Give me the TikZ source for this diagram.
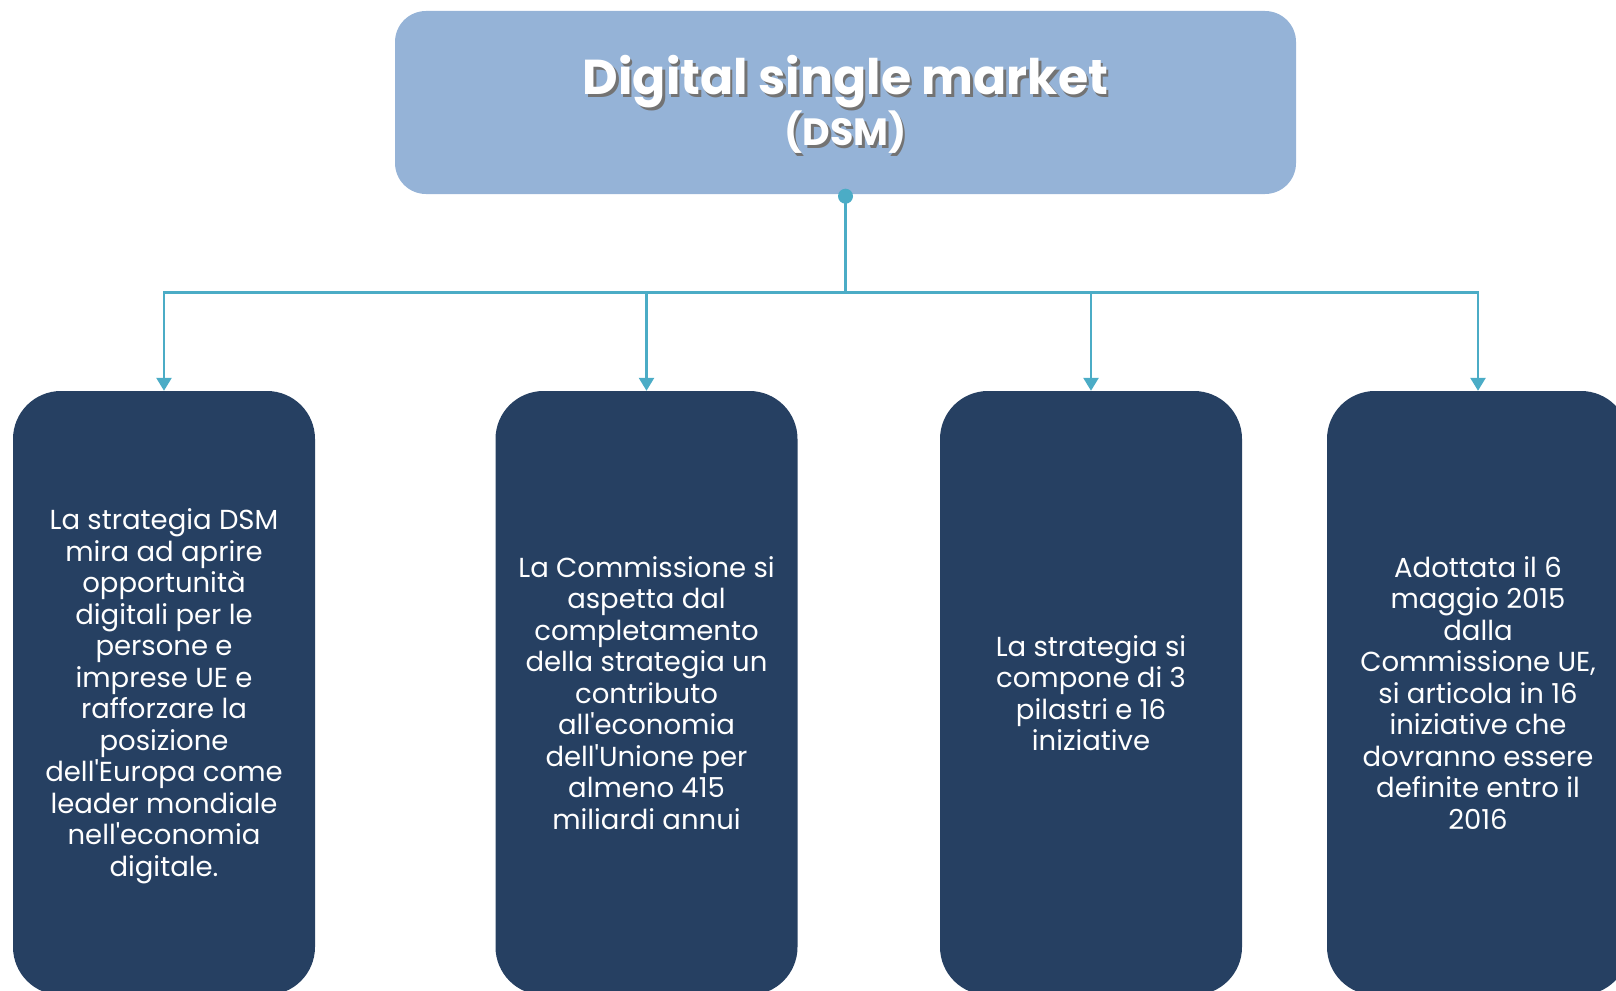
\documentclass[tikz,border=0pt]{standalone}
\usepackage{fontspec}
\setmainfont{Poppins}
\usetikzlibrary{arrows.meta}
\definecolor{titleblue}{HTML}{95B3D7}
\definecolor{boxnavy}{HTML}{264062}
\definecolor{linkteal}{HTML}{4BACC6}
\newcommand{\ap}{\textquotesingle}
\begin{document}
\begin{tikzpicture}[x=1pt, y=-1pt,
 topbox/.style={fill=titleblue, rounded corners=31pt, minimum width=901pt, minimum height=183pt, inner sep=0pt},
 card/.style={fill=boxnavy, rounded corners=48pt, minimum width=302pt, minimum height=604pt, inner sep=0pt},
 cardtext/.style={text=white, align=center, font=\fontsize{27.5}{31.5}\selectfont},
 link/.style={draw=linkteal, line width=2.6pt, -{Triangle[width=15pt,length=13pt]}},
 dot/.style={circle, fill=linkteal, minimum size=15pt, inner sep=0pt}]
\useasboundingbox (0,0) rectangle (1616,990);
\clip (0,0) rectangle (1616,990);

\node[topbox] at (845.5,102.5)(title) {};
\node[text=black!55, align=center, font=\bfseries] at ([shift={(2.5,5)}]title.center)(titleshadow) {{\fontsize{49}{53}\selectfont Digital single market}\\[2pt]{\fontsize{38}{40}\selectfont (DSM)}};
\node[text=white, align=center, font=\bfseries] at ([shift={(0,2)}]title.center)(titletext) {{\fontsize{49}{53}\selectfont Digital single market}\\[2pt]{\fontsize{38}{40}\selectfont (DSM)}};

\node[card] at (164,693)(b1) {};
\node[card] at (646.5,693)(b2) {};
\node[card] at (1091,693)(b3) {};
\node[card] at (1478,693)(b4) {};

\node[cardtext] at ([yshift=-3pt]b1.center)(t1) {La strategia DSM\\mira ad aprire\\opportunità\\digitali per le\\persone e\\imprese UE e\\rafforzare la\\posizione\\dell\ap Europa come\\leader mondiale\\nell\ap economia\\digitale.};
\node[cardtext] at (b2.center)(t2) {La Commissione si\\aspetta dal\\completamento\\della strategia un\\contributo\\all\ap economia\\dell\ap Unione per\\almeno 415\\miliardi annui};
\node[cardtext] at (b3.center)(t3) {La strategia si\\compone di 3\\pilastri e 16\\iniziative};
\node[cardtext] at (b4.center)(t4) {Adottata il 6\\maggio 2015\\dalla\\Commissione UE,\\si articola in 16\\iniziative che\\dovranno essere\\definite entro il\\2016};

\draw[link] (title.south) -- ++(0,98) -| (b1.north);
\draw[link] (title.south) -- ++(0,98) -| (b2.north);
\draw[link] (title.south) -- ++(0,98) -| (b3.north);
\draw[link] (title.south) -- ++(0,98) -| (b4.north);
\node[dot] at ([yshift=-2pt]title.south)(root) {};
\end{tikzpicture}
\end{document}
